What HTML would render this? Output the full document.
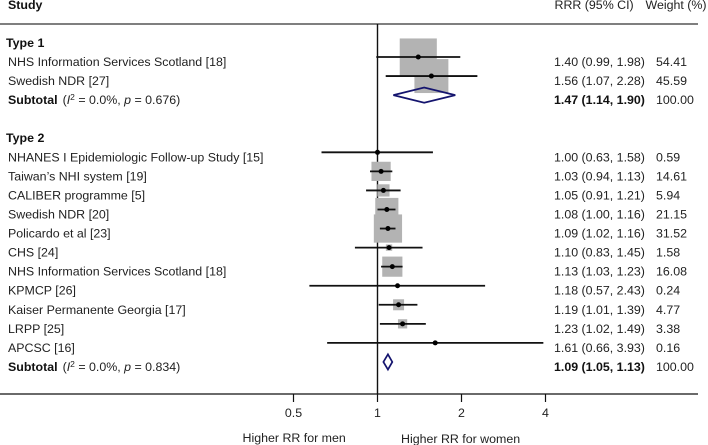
<!DOCTYPE html>
<html>
<head>
<meta charset="utf-8">
<title>Forest plot</title>
<style>
html,body{margin:0;padding:0;background:#fff;width:708px;height:445px;overflow:hidden}
svg{display:block}
text{font-family:"Liberation Sans",Arial,sans-serif;font-size:12.4px;fill:#222}
.b{font-weight:bold;fill:#111}
</style>
</head>
<body>
<svg id="chart" width="708" height="445" viewBox="0 0 708 445" xmlns="http://www.w3.org/2000/svg">
  <text x="8" y="9" class="b">Study</text>
  <text x="554.5" y="9">RRR (95% CI)</text>
  <text x="645.5" y="9">Weight (%)</text>
  <line x1="0" x2="698" y1="24" y2="24" stroke="#555" stroke-width="1.6"/>
  <g id="marks"></g>
  <line x1="0" x2="698" y1="394" y2="394" stroke="#111" stroke-width="1.3"/>
  <g id="axis"></g>
  <text x="242.5" y="442">Higher RR for men</text>
  <text x="401" y="443">Higher RR for women</text>
</svg>
<script>
var type1Studies = ['NHS Information Services Scotland [18]', 'Swedish NDR [27]'];
var type1Rrr = [1.40, 1.56];
var type1Lower = [0.99, 1.07];
var type1Upper = [1.98, 2.28];
var type1Weight = [54.41, 45.59];
var type1Subtotal = [1.47, 1.14, 1.90];
var type1Heterogeneity = ['0.0%', '0.676'];

var type2Studies = ['NHANES I Epidemiologic Follow-up Study [15]', 'Taiwan\u2019s NHI system [19]', 'CALIBER programme [5]', 'Swedish NDR [20]', 'Policardo et al [23]', 'CHS [24]', 'NHS Information Services Scotland [18]', 'KPMCP [26]', 'Kaiser Permanente Georgia [17]', 'LRPP [25]', 'APCSC [16]'];
var type2Rrr = [1.00, 1.03, 1.05, 1.08, 1.09, 1.10, 1.13, 1.18, 1.19, 1.23, 1.61];
var type2Lower = [0.63, 0.94, 0.91, 1.00, 1.02, 0.83, 1.03, 0.57, 1.01, 1.02, 0.66];
var type2Upper = [1.58, 1.13, 1.21, 1.16, 1.16, 1.45, 1.23, 2.43, 1.39, 1.49, 3.93];
var type2Weight = [0.59, 14.61, 5.94, 21.15, 31.52, 1.58, 16.08, 0.24, 4.77, 3.38, 0.16];
var type2Subtotal = [1.09, 1.05, 1.13];
var type2Heterogeneity = ['0.0%', '0.834'];

var axisTicks = [0.5, 1, 2, 4];

var SVGNS = 'http://www.w3.org/2000/svg';
var marks = document.getElementById('marks');
var axis = document.getElementById('axis');

function xScale(v) { return 377.5 + 84 * Math.log2(v); }
function rowY(r) { return 57 + 19.06 * r; }
function squareSide(w) { return 5.03 * Math.sqrt(w); }

function make(parent, tag, attrs, text) {
  var el = document.createElementNS(SVGNS, tag);
  for (var k in attrs) el.setAttribute(k, attrs[k]);
  if (text !== undefined) el.textContent = text;
  parent.appendChild(el);
  return el;
}
function ci(a, b, c) {
  return a.toFixed(2) + ' (' + b.toFixed(2) + ', ' + c.toFixed(2) + ')';
}

var refLine = make(marks, 'line', { x1: xScale(1), x2: xScale(1), y1: 24, y2: 394, stroke: '#111', 'stroke-width': 1.4 });


var squaresLayer = make(marks, 'g', {});


var linesLayer = make(marks, 'g', {});


var textLayer = make(marks, 'g', {});



function drawGroup(title, startRow, studies, rrr, lower, upper, weight, subtotal, het) {
  var head = make(textLayer, 'text', { x: 6, y: rowY(startRow) + 9, 'class': 'b' }, title);
  
  

  var r = startRow + 1;
  for (var i = 0; i < studies.length; i++, r++) {
    var y = rowY(r), s = squareSide(weight[i]), cx = xScale(rrr[i]);
    var sq = make(squaresLayer, 'rect', { x: cx - s / 2, y: y - s / 2, width: s, height: s, fill: '#b3b3b3' });
    
    
    var ln = make(linesLayer, 'line', { x1: xScale(lower[i]), x2: xScale(upper[i]), y1: y, y2: y, stroke: '#111', 'stroke-width': 1.8 });
    
    
    var dot = make(linesLayer, 'circle', { cx: cx, cy: y, r: 2.5, fill: '#000' });
    
    
    var t1 = make(textLayer, 'text', { x: 8, y: y + 9 }, studies[i]);
    
    
    var t2 = make(textLayer, 'text', { x: 554, y: y + 9 }, ci(rrr[i], lower[i], upper[i]));
    
    
    var t3 = make(textLayer, 'text', { x: 656, y: y + 9 }, weight[i].toFixed(2));
    
    
  }

  var sy = rowY(r);
  var pts = [[xScale(subtotal[1]), sy], [xScale(subtotal[0]), sy - 7.6], [xScale(subtotal[2]), sy], [xScale(subtotal[0]), sy + 7.6]];
  var dia = make(linesLayer, 'polygon', { points: pts.join(' '), fill: 'none', stroke: '#14146e', 'stroke-width': 1.7 });
  
  

  var lab = make(textLayer, 'text', { x: 8, y: sy + 9 });
  
  
  make(lab, 'tspan', { 'class': 'b' }, 'Subtotal');
  make(lab, 'tspan', { dx: 5 }, '(');
  make(lab, 'tspan', { 'font-style': 'italic' }, 'I');
  make(lab, 'tspan', { dy: -4, style: 'font-size:8.5px' }, '2');
  make(lab, 'tspan', { dy: 4 }, ' = ' + het[0] + ', ');
  make(lab, 'tspan', { 'font-style': 'italic' }, 'p');
  make(lab, 'tspan', {}, ' = ' + het[1] + ')');

  var v = make(textLayer, 'text', { x: 554, y: sy + 9, 'class': 'b' }, ci(subtotal[0], subtotal[1], subtotal[2]));
  
  
  var w = make(textLayer, 'text', { x: 656, y: sy + 9 }, '100.00');
  
  
  return r;
}

var lastRow = drawGroup('Type 1', -1, type1Studies, type1Rrr, type1Lower, type1Upper, type1Weight, type1Subtotal, type1Heterogeneity);
drawGroup('Type 2', lastRow + 2, type2Studies, type2Rrr, type2Lower, type2Upper, type2Weight, type2Subtotal, type2Heterogeneity);

axisTicks.forEach(function (t) {
  var tk = make(axis, 'line', { x1: xScale(t), x2: xScale(t), y1: 394, y2: 402, stroke: '#111', 'stroke-width': 1.2 });
  
  
  var tl = make(axis, 'text', { x: xScale(t), y: 417, 'text-anchor': 'middle' }, String(t));
  
  
});
</script>
</body>
</html>
